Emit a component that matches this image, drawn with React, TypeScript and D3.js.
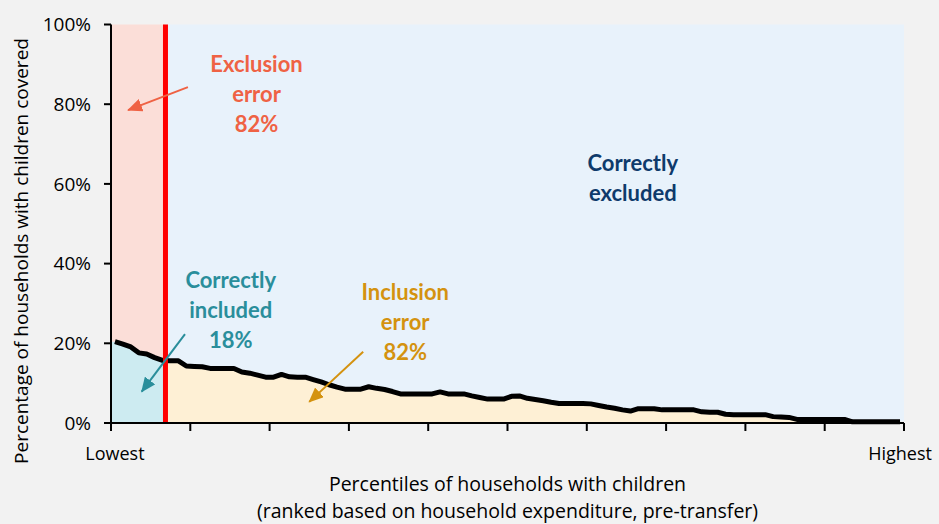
import React from "react";
import * as d3 from "d3";

// Share of households with children covered, by expenditure percentile (1..100)
const coverage: number[] = [
  20.4, 19.8, 19.1, 17.6, 17.3, 16.4, 15.7, 15.6, 15.6, 14.3,
  14.2, 14.1, 13.7, 13.7, 13.7, 13.7, 12.8, 12.5, 12.0, 11.5,
  11.5, 12.2, 11.6, 11.5, 11.5, 10.9, 10.3, 9.6, 9.0, 8.5,
  8.5, 8.5, 9.1, 8.7, 8.4, 7.9, 7.3, 7.3, 7.3, 7.3,
  7.3, 7.8, 7.3, 7.3, 7.3, 6.8, 6.4, 6.0, 6.0, 6.0,
  6.7, 6.8, 6.2, 5.9, 5.6, 5.2, 4.9, 4.9, 4.9, 4.9,
  4.8, 4.4, 4.0, 3.7, 3.3, 3.0, 3.6, 3.6, 3.6, 3.3,
  3.3, 3.3, 3.3, 3.3, 2.8, 2.7, 2.7, 2.2, 2.1, 2.1,
  2.1, 2.1, 2.1, 1.6, 1.5, 1.4, 0.9, 0.9, 0.9, 0.9,
  0.9, 0.9, 0.9, 0.3, 0.3, 0.3, 0.3, 0.3, 0.3, 0.3,
];

// Eligibility cutoff (percentile)
const cutoff = 6.87;

const yTicks: number[] = [0, 20, 40, 60, 80, 100];
const xTicks: number[] = [0, 10, 20, 30, 40, 50, 60, 70, 80, 90, 100];

const annotations = [
  { lines: ["Exclusion", "error", "82%"], x: 18.35, y: 88.2, color: "#EF6244" },
  { lines: ["Correctly", "included", "18%"], x: 15.1, y: 33.9, color: "#2A8E9B" },
  { lines: ["Inclusion", "error", "82%"], x: 37.1, y: 30.9, color: "#D4920F" },
  { lines: ["Correctly", "excluded"], x: 65.8, y: 63.2, color: "#0E3A6B" },
];

const arrows = [
  { x1: 9.7, y1: 84.3, x2: 2.15, y2: 78.5, color: "#EF6244", id: "a0" },
  { x1: 9.33, y1: 22.3, x2: 3.87, y2: 7.85, color: "#2A8E9B", id: "a1" },
  { x1: 31.8, y1: 17.9, x2: 25.0, y2: 5.3, color: "#D4920F", id: "a2" },
];

const W = 939;
const H = 524;
const margin = { left: 111, right: 35, top: 24.5, bottom: 101 };

export default function App() {
  const x = d3.scaleLinear().domain([0, 100]).range([margin.left, W - margin.right]);
  const y = d3.scaleLinear().domain([0, 100]).range([H - margin.bottom, margin.top]);

  const pts: [number, number][] = coverage.map((v, i) => [i + 0.5, v]);
  const areaPts: [number, number][] = [
    [0, coverage[0]],
    ...pts,
    [100, coverage[coverage.length - 1]],
  ];

  const line = d3
    .line<[number, number]>()
    .x((d) => x(d[0]))
    .y((d) => y(d[1]));
  const area = d3
    .area<[number, number]>()
    .x((d) => x(d[0]))
    .y0(y(0))
    .y1((d) => y(d[1]));

  const font = "'Open Sans', 'Noto Sans', sans-serif";
  const boldFont = "Lato, 'Open Sans', sans-serif";

  return (
    <svg
      width={W}
      height={H}
      style={{ position: "absolute", left: 0, top: 0 }}
      xmlns="http://www.w3.org/2000/svg"
    >
      <defs>
        <clipPath id="leftClip">
          <rect x={x(0)} y={y(100)} width={x(cutoff) - x(0)} height={y(0) - y(100)} />
        </clipPath>
        <clipPath id="rightClip">
          <rect x={x(cutoff)} y={y(100)} width={x(100) - x(cutoff)} height={y(0) - y(100)} />
        </clipPath>
        {arrows.map((a) => (
          <marker
            key={a.id}
            id={a.id}
            markerUnits="userSpaceOnUse"
            markerWidth={15}
            markerHeight={13}
            refX={14}
            refY={6.5}
            orient="auto"
          >
            <path d="M0,0 L15,6.5 L0,13 Z" fill={a.color} />
          </marker>
        ))}
      </defs>
      <rect x={0} y={0} width={W} height={H} fill="#F2F2F2" />

      {/* backgrounds */}
      <rect x={x(0)} y={y(100)} width={x(cutoff) - x(0)} height={y(0) - y(100)} fill="#FBDED8" />
      <rect x={x(cutoff)} y={y(100)} width={x(100) - x(cutoff)} height={y(0) - y(100)} fill="#E8F2FB" />

      {/* areas under curve */}
      <path d={area(areaPts) || ""} fill="#CDEBF1" clipPath="url(#leftClip)" />
      <path d={area(areaPts) || ""} fill="#FEF0D5" clipPath="url(#rightClip)" />

      {/* curve */}
      <path d={line(pts) || ""} fill="none" stroke="#000" strokeWidth={5} strokeLinejoin="round" />

      {/* cutoff line */}
      <line x1={x(cutoff)} x2={x(cutoff)} y1={y(100)} y2={y(0)} stroke="#FF0000" strokeWidth={5} />

      {/* axes */}
      <line x1={x(0)} x2={x(0)} y1={y(100)} y2={y(0)} stroke="#000" strokeWidth={2} />
      <line x1={x(0)} x2={x(100)} y1={y(0)} y2={y(0)} stroke="#000" strokeWidth={2} />
      {yTicks.map((t) => (
        <g key={"y" + t}>
          <line x1={x(0) - 7} x2={x(0)} y1={y(t)} y2={y(t)} stroke="#000" strokeWidth={2} />
          <text
            x={x(0) - 20}
            y={y(t)}
            dy="0.35em"
            textAnchor="end"
            fontFamily={font}
            fontSize={19}
            fill="#000"
          >
            {t}%
          </text>
        </g>
      ))}
      {xTicks.map((t) => (
        <line key={"x" + t} x1={x(t)} x2={x(t)} y1={y(0)} y2={y(0) + 8} stroke="#000" strokeWidth={2} />
      ))}
      <text x={x(0.5)} y={460} textAnchor="middle" fontFamily={font} fontSize={18} fill="#000">
        Lowest
      </text>
      <text x={x(99.5)} y={460} textAnchor="middle" fontFamily={font} fontSize={18} fill="#000">
        Highest
      </text>
      <text x={x(50)} y={491} textAnchor="middle" fontFamily={font} fontSize={19.5} fill="#000">
        Percentiles of households with children
      </text>
      <text x={x(50)} y={518} textAnchor="middle" fontFamily={font} fontSize={19.5} fill="#000">
        (ranked based on household expenditure, pre-transfer)
      </text>
      <text
        transform={`translate(21, 251) rotate(-90)`}
        textAnchor="middle"
        dy="0.35em"
        fontFamily={font}
        fontSize={19}
        fill="#000"
      >
        Percentage of households with children covered
      </text>

      {/* annotations */}
      {annotations.map((a, i) => (
        <text
          key={"ann" + i}
          textAnchor="middle"
          fontFamily={boldFont}
          fontWeight="bold"
          fontSize={22}
          fill={a.color}
        >
          {a.lines.map((l, j) => (
            <tspan key={j} x={x(a.x)} y={y(a.y) + j * 30}>
              {l}
            </tspan>
          ))}
        </text>
      ))}
      {arrows.map((a) => (
        <line
          key={"arr" + a.id}
          x1={x(a.x1)}
          y1={y(a.y1)}
          x2={x(a.x2)}
          y2={y(a.y2)}
          stroke={a.color}
          strokeWidth={2}
          markerEnd={`url(#${a.id})`}
        />
      ))}
    </svg>
  );
}
